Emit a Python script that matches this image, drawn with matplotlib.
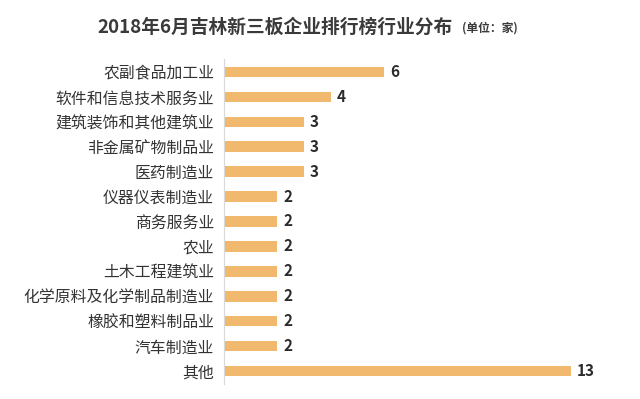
import matplotlib
matplotlib.use("Agg")
import matplotlib.pyplot as plt

plt.rcParams['font.family'] = ['Noto Sans CJK SC', 'DejaVu Sans']

categories = ["农副食品加工业", "软件和信息技术服务业", "建筑装饰和其他建筑业", "非金属矿物制品业",
              "医药制造业", "仪器仪表制造业", "商务服务业", "农业", "土木工程建筑业",
              "化学原料及化学制品制造业", "橡胶和塑料制品业", "汽车制造业", "其他"]
values = [6, 4, 3, 3, 3, 2, 2, 2, 2, 2, 2, 2, 13]

fig = plt.figure(figsize=(6.4, 3.99), dpi=100)

ax = fig.add_axes([224/640, 1-383.5/399, (620-224)/640, (383.5-59.5)/399])

y = list(range(len(categories)))
ax.barh(y, values, height=0.42, color='#F0B96D')
ax.set_ylim(len(categories)-0.5, -0.5)
ax.set_xlim(0, 13*396/347)
ax.set_yticks(y)
ax.set_yticklabels(categories, fontsize=11.4, color='#333333')
ax.tick_params(axis='y', length=0, pad=7)
ax.set_xticks([])
for s in ['top', 'right', 'bottom']:
    ax.spines[s].set_visible(False)
ax.spines['left'].set_color('#d9d9d9')
ax.spines['left'].set_linewidth(0.8)
for yi, v in zip(y, values):
    ax.text(v + 0.22, yi, str(v), va='center', ha='left', fontsize=11, fontweight='bold', color='#2b2b2b')

fig.text(97/640, 1-27/399, "2018年6月吉林新三板企业排行榜行业分布", fontsize=13.5, fontweight='bold',
         color='#3a3a3a', va='center', ha='left')
fig.text(462/640, 1-28/399, "(单位：家)", fontsize=8.5, fontweight='bold', color='#3a3a3a', va='center', ha='left')

fig.savefig("out.png", dpi=100)
